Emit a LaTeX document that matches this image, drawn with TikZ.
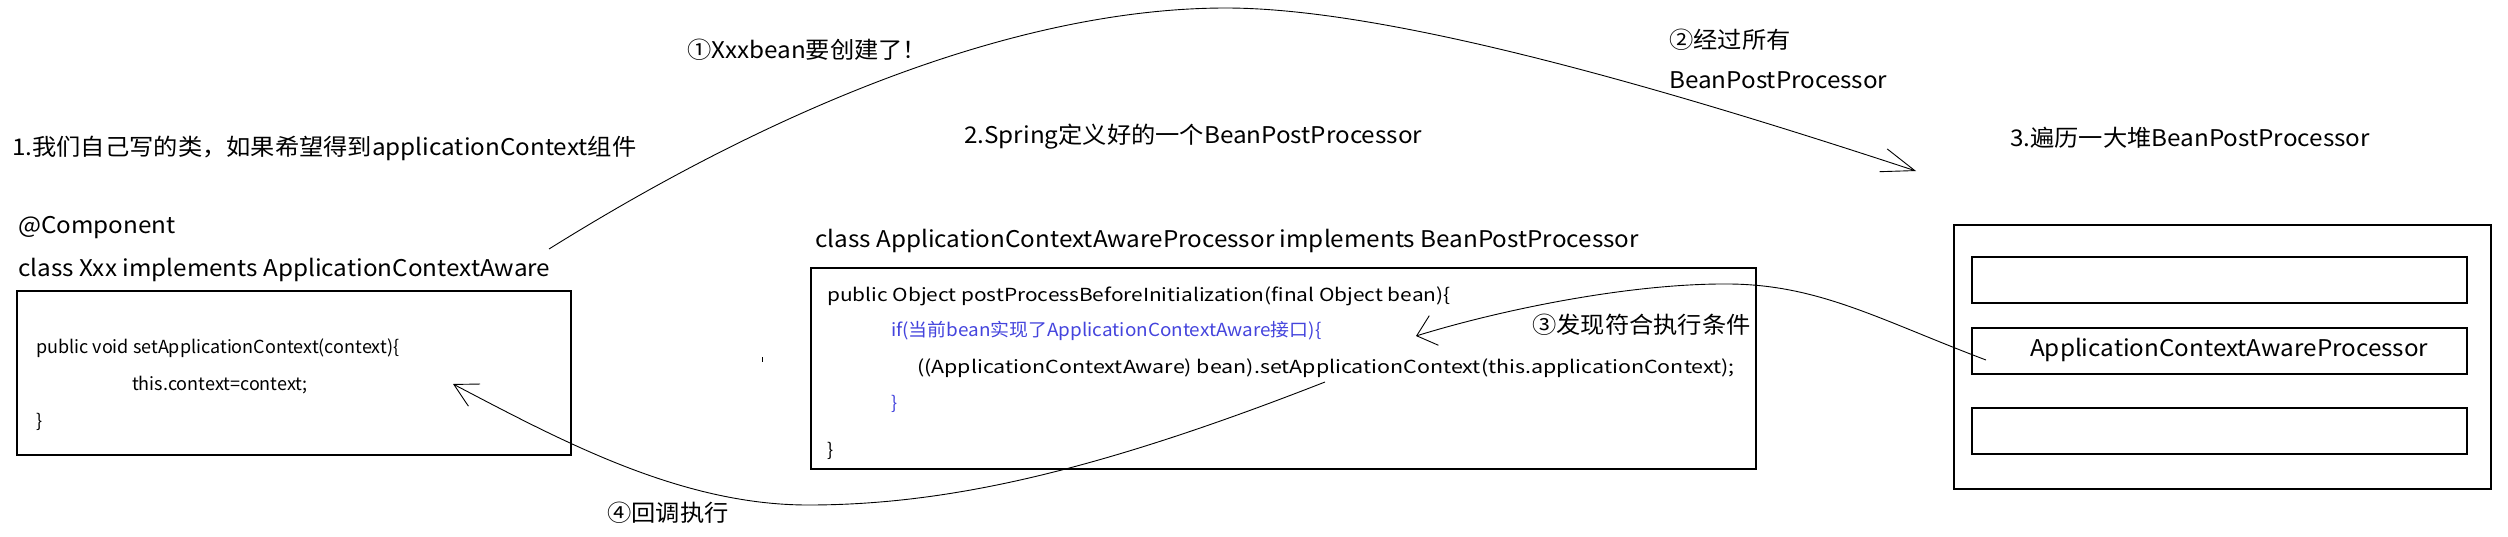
\documentclass[tikz,border=0pt]{standalone}
\usepackage{fontspec}
\setmainfont{Noto Sans CJK SC}
\usetikzlibrary{arrows.meta}
\definecolor{codeblue}{RGB}{68,68,221}
\begin{document}
\begin{tikzpicture}[x=1pt,y=-1pt,
  lbl/.style={anchor=west,inner sep=0pt,font=\fontsize{23}{27}\selectfont\addfontfeatures{FakeStretch=1.055}},
  code/.style={anchor=west,inner sep=0pt,font=\fontsize{18}{22}\selectfont},
  widecode/.style={anchor=west,inner sep=0pt,font=\fontsize{18}{22}\selectfont\addfontfeatures{FakeStretch=#1}},
  frame/.style={draw,line width=1.5pt,anchor=north west,inner sep=0pt},
  conn/.style={line width=0.9pt},
  barbA/.style={-{Straight Barb[length=33pt,width=24pt]}},
  barbB/.style={-{Straight Barb[length=18pt,width=31pt]}},
  barbC/.style={-{Straight Barb[length=23pt,width=25pt]}}
]
\useasboundingbox (0,0) rectangle (2508,536);
\fill[white] (0,0) rectangle (2508,536);

% left part
\node[lbl] (t1) at (12,148) {1.我们自己写的类，如果希望得到applicationContext组件};
\node[lbl] (comp) at (18,228) {@Component};
\node[lbl] (clsx) at (18,270) {class Xxx implements ApplicationContextAware};
\node[frame,minimum width=554pt,minimum height=164pt] (leftbox) at (16,290) {};
\node[code] (l1) at (36,348) {public void setApplicationContext(context)\{};
\node[code] (l2) at (132,385) {this.context=context;};
\node[code] (l3) at (36,422) {\}};

% top labels
\node[lbl] (s1) at (687,50) {①Xxxbean要创建了！};
\node[lbl] (t2) at (964,137) {2.Spring定义好的一个BeanPostProcessor};
\node[lbl] (s2a) at (1669,40) {②经过所有};
\node[lbl] (s2b) at (1669,80) {BeanPostProcessor};
\node[lbl] (t3) at (2010,138) {3.遍历一大堆BeanPostProcessor};

% middle part
\node[lbl] (clsp) at (815,241) {class ApplicationContextAwareProcessor implements BeanPostProcessor};
\node[frame,minimum width=945pt,minimum height=201pt] (midbox) at (810,267) {};
\node[widecode=1.16] (m1) at (827,296) {public Object postProcessBeforeInitialization(final Object bean)\{};
\node[widecode=1.05,text=codeblue] (m2) at (891,331) {if(当前bean实现了ApplicationContextAware接口)\{};
\node[widecode=1.19] (m3) at (917,368) {((ApplicationContextAware) bean).setApplicationContext(this.applicationContext);};
\node[code,text=codeblue] (m4) at (891,404) {\}};
\node[code] (m5) at (827,451) {\}};
\node[lbl] (s3) at (1532,325) {③发现符合执行条件};
\node[lbl] (s4) at (607,513) {④回调执行};
\draw[line width=1pt] (762,357) -- (762,362);

% right part
\node[frame,minimum width=537pt,minimum height=264pt] (outer) at (1953,224) {};
\node[frame,minimum width=495pt,minimum height=46pt] (p1) at (1971,256) {};
\node[frame,minimum width=495pt,minimum height=46pt] (p2) at (1971,327) {};
\node[frame,minimum width=495pt,minimum height=46pt] (p3) at (1971,407) {};
\node[lbl] (p2t) at (2030,350) {ApplicationContextAwareProcessor};

% connectors
\coordinate (a1) at (549,249);
\coordinate (a1e) at (1916,171);
\draw[conn,barbA] (a1) .. controls (820,80) and (1050,8) .. (1226,8)
   .. controls (1400,8) and (1700,100) .. (a1e);

\coordinate (a3) at (1986,360);
\coordinate (a3e) at (1416,336);
\draw[conn,barbB] (a3) .. controls (1880,320) and (1820,285) .. (1730,284)
   .. controls (1630,283) and (1500,310) .. (a3e);

\coordinate (a4) at (1325,382);
\coordinate (a4e) at (453,384);
\draw[conn,barbC] (a4) .. controls (1100,470) and (950,505) .. (808,505)
   .. controls (680,505) and (560,440) .. (a4e);
\end{tikzpicture}
\end{document}
